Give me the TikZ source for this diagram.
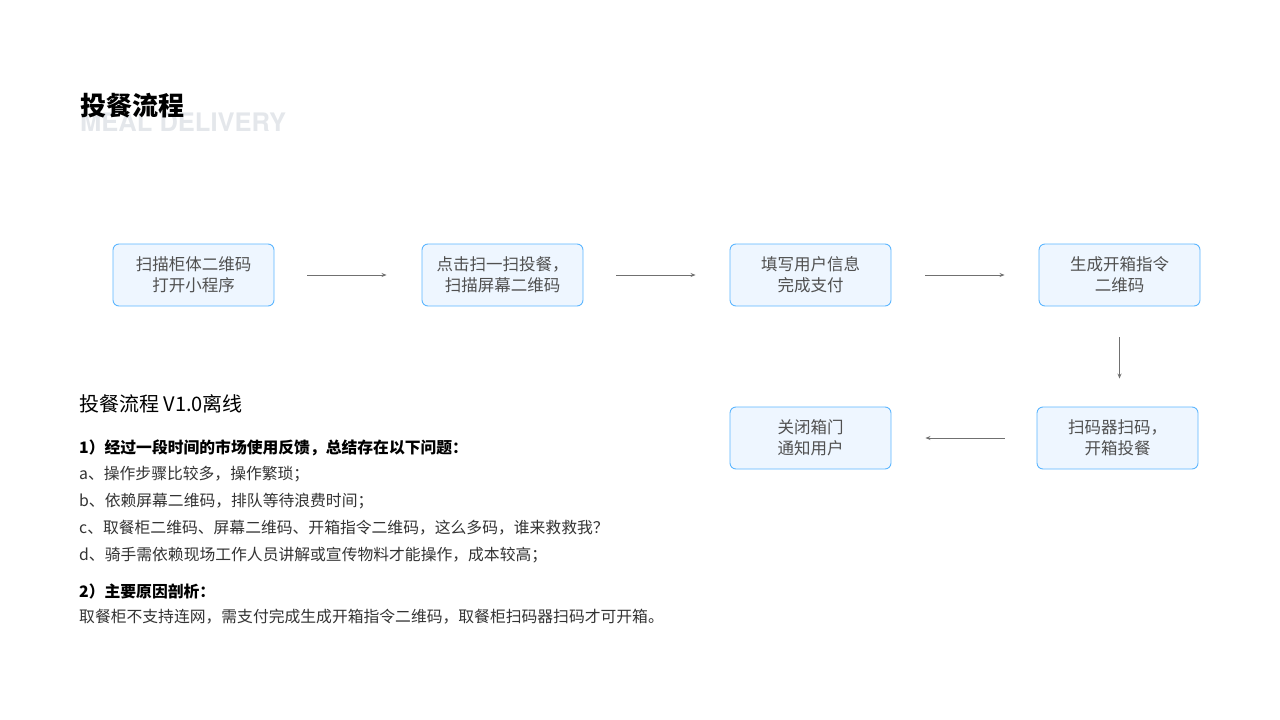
\documentclass[tikz,border=0pt]{standalone}
\usepackage{fontspec}
\setmainfont{Noto Sans CJK SC}
\newfontfamily\latinbold{TeX Gyre Heros}
\usetikzlibrary{arrows.meta}
\definecolor{boxfill}{HTML}{EEF6FF}
\definecolor{boxline}{HTML}{5CB6FF}
\definecolor{boxtext}{HTML}{505050}
\definecolor{bodytext}{HTML}{333333}
\definecolor{ghost}{HTML}{E4E7EB}
\definecolor{arrowc}{HTML}{707070}
\tikzset{
  stepbox/.style={draw=boxline, fill=boxfill, line width=0.9pt, rounded corners=6pt,
    minimum width=161pt, minimum height=62pt, align=center, text=boxtext,
    font=\fontsize{16.5}{21}\selectfont, inner sep=0pt},
  flow/.style={draw=arrowc, line width=0.8pt, -{Stealth[length=5pt,width=4pt]}},
  bodyline/.style={anchor=west, text=bodytext, font=\fontsize{15.8}{18}\selectfont, inner sep=0pt},
}
\begin{document}
\begin{tikzpicture}[x=1pt,y=-1pt]
\useasboundingbox (0,0) rectangle (1280,720);
% titles
\node[anchor=west, inner sep=0pt, text=ghost, font=\latinbold\bfseries\fontsize{25.5}{30}\selectfont] (ghost) at (80,122) {MEAL DELIVERY};
\node[anchor=west, inner sep=0pt, text=black, font=\bfseries\fontsize{26}{28}\selectfont] (title) at (80,106) {投餐流程};
% boxes
\node[stepbox] (b1) at (193.5,275) {扫描柜体二维码\\打开小程序};
\node[stepbox] (b2) at (502.5,275) {点击扫一扫投餐，\\扫描屏幕二维码};
\node[stepbox] (b3) at (810.5,275) {填写用户信息\\完成支付};
\node[stepbox] (b4) at (1119.5,275) {生成开箱指令\\二维码};
\node[stepbox] (b5) at (1117.5,438) {扫码器扫码，\\开箱投餐};
\node[stepbox] (b6) at (810.5,438) {关闭箱门\\通知用户};
% connectors
\draw[flow] ([xshift=33pt]b1.east) -- ([xshift=-35pt]b2.west);
\draw[flow] ([xshift=33pt]b2.east) -- ([xshift=-34pt]b3.west);
\draw[flow] ([xshift=34pt]b3.east) -- ([xshift=-34pt]b4.west);
\draw[flow] ([yshift=-31pt]b4.south) -- ([yshift=28pt]b5.north -| b4.south);
\draw[flow] ([xshift=-32pt]b5.west) -- ([xshift=34pt]b6.east);
% text block
\node[anchor=west, inner sep=0pt, text=black, font=\fontsize{20}{22}\selectfont] (sub) at (79,404) {投餐流程 V1.0离线};
\node[bodyline, font=\bfseries\fontsize{15.8}{18}\selectfont, text=black] (p1) at (79,448) {1）经过一段时间的市场使用反馈，总结存在以下问题：};
\node[bodyline] (pa) at (79,474.5) {a、操作步骤比较多，操作繁琐；};
\node[bodyline] (pb) at (79,501.5) {b、依赖屏幕二维码，排队等待浪费时间；};
\node[bodyline] (pc) at (79,528) {c、取餐柜二维码、屏幕二维码、开箱指令二维码，这么多码，谁来救救我？};
\node[bodyline] (pd) at (79,555) {d、骑手需依赖现场工作人员讲解或宣传物料才能操作，成本较高；};
\node[bodyline, font=\bfseries\fontsize{15.8}{18}\selectfont, text=black] (p2) at (79,591) {2）主要原因剖析：};
\node[bodyline] (pe) at (79,617) {取餐柜不支持连网，需支付完成生成开箱指令二维码，取餐柜扫码器扫码才可开箱。};
\end{tikzpicture}
\end{document}
